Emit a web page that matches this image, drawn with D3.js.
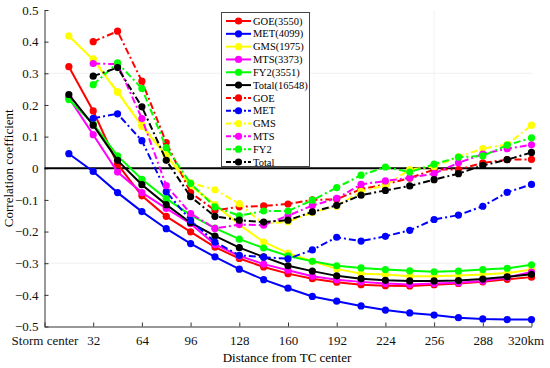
<!DOCTYPE html>
<html>
<head>
<meta charset="utf-8">
<script src="https://cdn.jsdelivr.net/npm/d3@7"></script>
<style>
  body { margin: 0; background: #fff; }
</style>
</head>
<body>
<div id="vis"></div>
<script>
// distance from TC center (km), one point every 16 km
let dist = [16,32,48,64,80,96,112,128,144,160,176,192,208,224,240,256,272,288,304,320]

// solid lines (sample sizes in legend)
let goeN   = [0.321,0.181,0.013,-0.087,-0.152,-0.201,-0.249,-0.285,-0.312,-0.333,-0.349,-0.360,-0.368,-0.371,-0.372,-0.368,-0.364,-0.359,-0.351,-0.344]
let metN   = [0.046,-0.010,-0.077,-0.137,-0.191,-0.238,-0.280,-0.319,-0.352,-0.379,-0.405,-0.420,-0.435,-0.448,-0.457,-0.464,-0.472,-0.476,-0.478,-0.478]
let gmsN   = [0.418,0.343,0.240,0.133,0.040,-0.055,-0.115,-0.178,-0.233,-0.268,-0.294,-0.318,-0.333,-0.336,-0.341,-0.341,-0.339,-0.336,-0.331,-0.320]
let mtsN   = [0.223,0.106,-0.012,-0.077,-0.127,-0.175,-0.241,-0.277,-0.303,-0.322,-0.341,-0.352,-0.359,-0.364,-0.367,-0.364,-0.362,-0.356,-0.345,-0.328]
let fy2N   = [0.217,0.140,0.039,-0.035,-0.096,-0.148,-0.189,-0.224,-0.252,-0.277,-0.294,-0.308,-0.315,-0.320,-0.324,-0.327,-0.325,-0.320,-0.316,-0.305]
let totalN = [0.233,0.136,0.025,-0.052,-0.115,-0.172,-0.214,-0.251,-0.280,-0.308,-0.325,-0.340,-0.349,-0.354,-0.356,-0.356,-0.355,-0.350,-0.343,-0.335]

// dash-dot lines (start at 32 km)
let goeD   = [null,0.400,0.433,0.275,0.081,-0.077,-0.133,-0.122,-0.119,-0.113,-0.100,-0.098,-0.066,-0.051,-0.031,-0.004,-0.004,0.017,0.027,0.028]
let metD   = [null,0.158,0.172,0.087,-0.074,-0.165,-0.233,-0.275,-0.281,-0.286,-0.258,-0.218,-0.230,-0.215,-0.196,-0.162,-0.148,-0.120,-0.076,-0.051]
let gmsD   = [null,0.346,0.242,0.136,0.042,-0.046,-0.068,-0.112,-0.176,-0.169,-0.140,-0.120,-0.073,-0.054,-0.004,0.005,0.036,0.062,0.075,0.136]
let mtsD   = [null,0.331,0.329,0.157,-0.055,-0.143,-0.190,-0.178,-0.180,-0.150,-0.118,-0.095,-0.051,-0.040,-0.030,-0.017,0.017,0.045,0.062,0.074]
let fy2D   = [null,0.264,0.333,0.252,0.065,-0.048,-0.122,-0.150,-0.135,-0.135,-0.101,-0.061,-0.022,0.004,-0.012,0.013,0.035,0.039,0.073,0.096]
let totalD = [null,0.291,0.318,0.194,0.025,-0.090,-0.152,-0.164,-0.170,-0.164,-0.138,-0.117,-0.085,-0.070,-0.056,-0.036,-0.017,0.009,0.027,0.050]

let seriesNames = ['GOE(3550)','MET(4099)','GMS(1975)','MTS(3373)','FY2(3551)','Total(16548)','GOE','MET','GMS','MTS','FY2','Total']
let seriesValues = [goeN,metN,gmsN,mtsN,fy2N,totalN,goeD,metD,gmsD,mtsD,fy2D,totalD]
let colors = ['#ff0000','#0000ff','#ffff00','#ff00ff','#00ff00','#000000']

let xTicks = [0,32,64,96,128,160,192,224,256,288,320]
let xTickLabels = ['Storm center','32','64','96','128','160','192','224','256','288','320km']
let yTicks = [-0.5,-0.4,-0.3,-0.2,-0.1,0,0.1,0.2,0.3,0.4,0.5]

let width = 550, height = 368
let serif = '"Liberation Serif", "Times New Roman", Times, serif'

let svg = d3.select('#vis').append('svg')
  .attr('width', width)
  .attr('height', height)
  .attr('font-family', serif)

let x = d3.scaleLinear().domain([0,320]).range([44.5,531.5])
let y = d3.scaleLinear().domain([-0.5,0.5]).range([326.5,10])

// faint grid traces visible in the picture
svg.selectAll('.hgrid').data([0.3,-0.3]).join('line')
  .attr('x1', x(0)).attr('x2', x(320))
  .attr('y1', d => y(d)).attr('y2', d => y(d))
  .attr('stroke', '#efefef')
svg.append('line')
  .attr('x1', x(256)).attr('x2', x(256))
  .attr('y1', y(0.5)).attr('y2', y(-0.5))
  .attr('stroke', '#f2f2f2')

// axes
let xAxis = d3.axisBottom(x).tickValues(xTicks)
  .tickFormat((d,i) => xTickLabels[i])
  .tickSizeInner(-4).tickSizeOuter(0).tickPadding(9)
let gx = svg.append('g').attr('transform', `translate(0,${y(-0.5)})`).call(xAxis)
gx.attr('font-family', serif).attr('font-size', 13)
gx.select('.domain').attr('stroke', '#333')
gx.selectAll('.tick line').attr('stroke', '#333')
gx.selectAll('text').attr('fill', '#111')
gx.selectAll('.tick').filter(d => d === 320).select('text').attr('dx', -6)

let yAxis = d3.axisLeft(y).tickValues(yTicks)
  .tickFormat(d => d === 0 ? '0' : d3.format('.1f')(d))
  .tickSizeInner(-4).tickSizeOuter(0).tickPadding(6)
let gy = svg.append('g').attr('transform', `translate(${x(0)},0)`).call(yAxis)
gy.attr('font-family', serif).attr('font-size', 13)
gy.select('.domain').attr('stroke', '#333')
gy.selectAll('.tick line').attr('stroke', '#333')
gy.selectAll('text').attr('fill', '#111')

// axis titles
svg.append('text')
  .attr('x', 287).attr('y', 362)
  .attr('text-anchor', 'middle')
  .attr('font-size', 13)
  .text('Distance from TC center')
svg.append('text')
  .attr('transform', `translate(13,${y(0)}) rotate(-90)`)
  .attr('text-anchor', 'middle')
  .attr('font-size', 13)
  .text('Correlation coefficient')

// zero line
svg.append('line')
  .attr('x1', x(0)).attr('x2', x(320))
  .attr('y1', y(0)).attr('y2', y(0))
  .attr('stroke', '#000').attr('stroke-width', 2)

let line = d3.line()
  .defined(d => d[1] !== null)
  .x(d => x(d[0]))
  .y(d => y(d[1]))

let dashStyle = '7,3,2,3'

seriesValues.forEach((vals, i) => {
  let pts = dist.map((d,j) => [d, vals[j]])
  let col = colors[i % 6]
  let dashed = i >= 6
  svg.append('path')
    .datum(pts)
    .attr('d', line)
    .attr('fill', 'none')
    .attr('stroke', col)
    .attr('stroke-width', 2)
    .attr('stroke-dasharray', dashed ? dashStyle : null)
  svg.selectAll('.pt' + i)
    .data(pts.filter(p => p[1] !== null))
    .join('circle')
    .attr('cx', d => x(d[0]))
    .attr('cy', d => y(d[1]))
    .attr('r', 3.6)
    .attr('fill', col)
})

// legend
let legend = svg.append('g')
legend.append('rect')
  .attr('x', 221.5).attr('y', 12.5)
  .attr('width', 88).attr('height', 154)
  .attr('fill', '#fff')
  .attr('stroke', '#444')
  .attr('stroke-width', 1)

let rowY = d3.scaleLinear().domain([0,11]).range([21,162])
seriesNames.forEach((name, i) => {
  let col = colors[i % 6]
  let yy = rowY(i)
  legend.append('line')
    .attr('x1', 226).attr('x2', 251)
    .attr('y1', yy).attr('y2', yy)
    .attr('stroke', col).attr('stroke-width', 2)
    .attr('stroke-dasharray', i >= 6 ? '5,2,2,2' : null)
  legend.append('circle')
    .attr('cx', 238.5).attr('cy', yy).attr('r', 3.6)
    .attr('fill', col)
  legend.append('text')
    .attr('x', 253).attr('y', yy)
    .attr('dy', '0.35em')
    .attr('font-size', 10.5)
    .text(name)
})
</script>
</body>
</html>
